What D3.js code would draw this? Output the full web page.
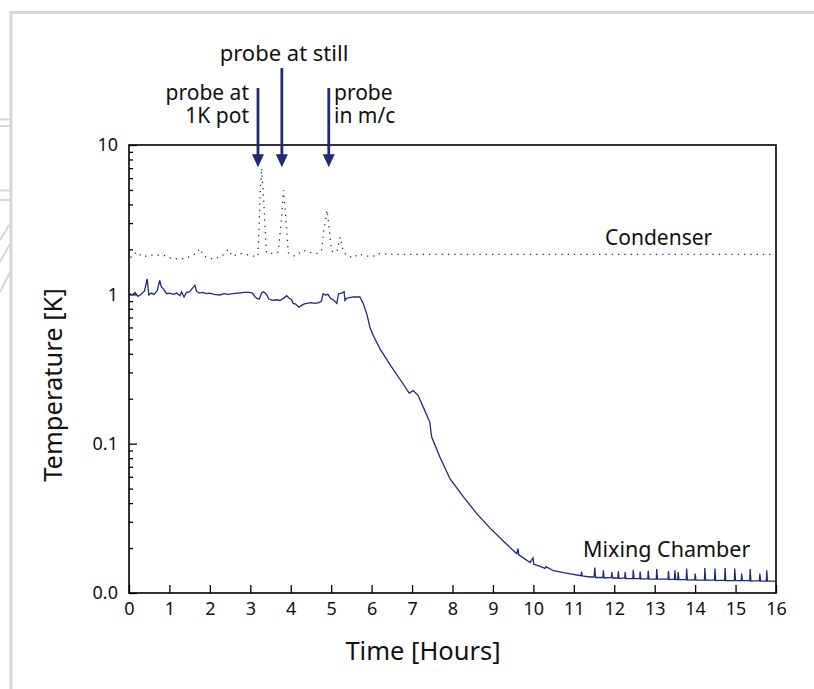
<!DOCTYPE html>
<html>
<head>
<meta charset="utf-8">
<script src="https://cdn.jsdelivr.net/npm/d3@7"></script>
<style>
  body { margin: 0; background: #fff; }
  text { font-family: "Noto Sans", sans-serif; fill: #111; }
</style>
</head>
<body>
<svg id="chart" width="814" height="689"></svg>
<script>
// time in hours, temperature in K
const mixingTime = [0.00, 0.08, 0.15, 0.22, 0.30, 0.38, 0.45, 0.49, 0.55, 0.62, 0.70, 0.76, 0.80, 0.86, 0.93,
  1.00, 1.10, 1.18, 1.26, 1.30, 1.36, 1.42, 1.50, 1.58, 1.63, 1.67, 1.74, 1.82, 1.92, 2.00, 2.10, 2.25, 2.35,
  2.45, 2.57, 2.70, 2.85, 2.99, 3.05, 3.12, 3.16, 3.22, 3.28, 3.33, 3.40, 3.46, 3.55, 3.65, 3.73, 3.82, 3.90,
  3.95, 4.02, 4.06, 4.12, 4.20, 4.26, 4.32, 4.40, 4.50, 4.60, 4.70, 4.76, 4.80, 4.86, 4.92, 4.98, 5.05, 5.14,
  5.18, 5.26, 5.32, 5.34, 5.38, 5.45, 5.55, 5.63, 5.71, 5.79, 5.88, 5.96, 6.04, 6.21, 6.45, 6.70, 6.93, 7.03,
  7.15, 7.28, 7.44, 7.47, 7.49, 7.69, 7.94, 8.27, 8.60, 8.93, 9.26, 9.59, 9.62, 9.64, 9.92, 9.99, 10.01, 10.10,
  10.29, 10.31, 10.50, 10.74, 10.95, 11.15, 11.18, 11.19, 11.21, 11.40,
  11.50, 11.52, 11.54, 11.72, 11.73, 11.75, 11.93, 11.94, 11.96, 12.09, 12.10, 12.12, 12.26, 12.27, 12.29,
  12.46, 12.47, 12.49, 12.63, 12.64, 12.66, 12.83, 12.84, 12.86, 13.04, 13.05, 13.07, 13.33, 13.34, 13.36,
  13.49, 13.50, 13.52, 13.57, 13.58, 13.60, 13.78, 13.79, 13.81, 13.99, 14.00, 14.02, 14.23, 14.24, 14.26,
  14.48, 14.49, 14.51, 14.73, 14.74, 14.76, 14.97, 14.98, 15.00, 15.14, 15.15, 15.17, 15.35, 15.36, 15.38,
  15.59, 15.60, 15.62, 15.76, 15.77, 15.79, 16.00]
const mixingTemp = [1.02, 0.99, 1.03, 0.97, 1.00, 1.05, 1.27, 0.99, 1.02, 1.00, 1.06, 1.24, 1.12, 1.08, 1.01,
  1.02, 1.00, 1.02, 0.98, 1.04, 0.96, 1.03, 1.04, 1.11, 1.15, 1.05, 1.02, 1.03, 1.01, 1.02, 1.00, 0.99, 1.01,
  1.00, 1.01, 1.02, 1.03, 1.03, 1.02, 0.96, 0.94, 0.93, 1.02, 1.04, 1.00, 0.93, 0.91, 0.92, 0.91, 0.94, 0.98,
  0.95, 0.92, 0.87, 0.86, 0.82, 0.84, 0.86, 0.87, 0.88, 0.87, 0.88, 0.90, 1.01, 0.99, 1.00, 0.94, 0.92, 0.87,
  1.01, 1.02, 1.04, 0.91, 0.94, 0.95, 0.96, 0.96, 0.96, 0.87, 0.74, 0.60, 0.53, 0.43, 0.34, 0.27, 0.218, 0.227,
  0.21, 0.175, 0.139, 0.118, 0.110, 0.081, 0.058, 0.044, 0.034, 0.0272, 0.0222, 0.0183, 0.0198, 0.0180, 0.0160, 0.0172, 0.0156, 0.0153,
  0.0146, 0.0150, 0.0141, 0.0137, 0.0134, 0.0131, 0.0131, 0.0139, 0.0130, 0.0128,
  0.0128, 0.0148, 0.0127, 0.0127, 0.0142, 0.0126, 0.0127, 0.0138, 0.0126, 0.0126, 0.0140, 0.0125, 0.0126, 0.0138, 0.0125,
  0.0125, 0.0143, 0.0125, 0.0125, 0.0139, 0.0124, 0.0125, 0.0141, 0.0124, 0.0124, 0.0145, 0.0124, 0.0124, 0.0140, 0.0123,
  0.0124, 0.0142, 0.0123, 0.0123, 0.0138, 0.0123, 0.0123, 0.0146, 0.0122, 0.0123, 0.0135, 0.0122, 0.0122, 0.0147, 0.0122,
  0.0122, 0.0146, 0.0121, 0.0122, 0.0147, 0.0121, 0.0121, 0.0146, 0.0121, 0.0121, 0.0135, 0.0121, 0.0121, 0.0145, 0.0120,
  0.0121, 0.0135, 0.0120, 0.0120, 0.0142, 0.0120, 0.0120]

const condenserTime = [0.00, 0.05, 0.19, 0.34, 0.55, 0.85, 1.10, 1.40, 1.67, 1.75, 1.85, 2.08, 2.30, 2.45, 2.55,
  2.74, 3.00, 3.15, 3.19, 3.24, 3.28, 3.32, 3.40, 3.55, 3.69, 3.76, 3.82, 3.88, 3.94, 4.10, 4.31, 4.50, 4.65,
  4.76, 4.82, 4.90, 4.96, 5.01, 5.14, 5.22, 5.30, 5.38, 5.55, 5.67, 5.88, 6.05, 6.14, 6.50, 16.00]
const condenserTemp = [1.97, 1.77, 1.92, 1.78, 1.83, 1.83, 1.72, 1.74, 1.88, 2.03, 1.80, 1.72, 1.80, 2.00, 1.80,
  1.88, 1.83, 1.78, 1.80, 4.5, 7.0, 4.8, 1.90, 1.88, 1.92, 3.0, 5.0, 3.2, 1.90, 1.80, 1.97, 1.90, 1.88,
  1.95, 2.7, 3.66, 2.6, 1.95, 1.92, 2.42, 1.93, 1.83, 1.75, 1.86, 1.80, 1.80, 1.88, 1.85, 1.85]

const xTicks = [0, 1, 2, 3, 4, 5, 6, 7, 8, 9, 10, 11, 12, 13, 14, 15, 16]
const yTicks = [0.01, 0.1, 1, 10]
const yTickLabels = ["0.0", "0.1", "1", "10"]

const arrowTimes = [3.19, 3.78, 4.94]
const arrowTip = 7.1

const navy = "#1f2a78"
const svg = d3.select("#chart")
const pLeft = 129, pRight = 776, pTop = 145, pBottom = 593

// page frame and margin decorations
const frame = svg.append("g").attr("stroke", "#d7d7d7").attr("fill", "none")
frame.append("path").attr("stroke-width", 3).attr("d", "M11,689 V12.5 H814")
;[119.5, 126, 190.5, 200].forEach(yy => {
  frame.append("line").attr("stroke-width", 2).attr("x1", 0).attr("x2", 10).attr("y1", yy).attr("y2", yy)
})
;[[240, 224], [262, 244], [292, 272]].forEach(p => {
  frame.append("line").attr("stroke-width", 2).attr("x1", 0).attr("x2", 10).attr("y1", p[0]).attr("y2", p[1])
})

const x = d3.scaleLinear().domain([0, 16]).range([pLeft, pRight])
const y = d3.scaleLog().domain([0.01, 10]).range([pBottom, pTop])

// axes
const xAxis = svg.append("g").attr("transform", `translate(0,${pBottom})`)
  .call(d3.axisBottom(x).tickValues(xTicks).tickSizeInner(-8).tickSizeOuter(0).tickPadding(9).tickFormat(d3.format("d")))
xAxis.select(".domain").remove()
xAxis.selectAll("line").attr("stroke", "#000").attr("stroke-width", 1.3)
xAxis.selectAll("text").attr("font-size", 18).attr("font-family", "Noto Sans").attr("fill", "#111")

const yMinor = svg.append("g").attr("transform", `translate(${pLeft},0)`)
  .call(d3.axisLeft(y).tickValues(y.ticks().filter(v => yTicks.indexOf(v) < 0)).tickSizeInner(-4).tickSizeOuter(0).tickFormat(""))
yMinor.select(".domain").remove()
yMinor.selectAll("line").attr("stroke", "#000").attr("stroke-width", 1.3)

const yAxis = svg.append("g").attr("transform", `translate(${pLeft},0)`)
  .call(d3.axisLeft(y).tickValues(yTicks).tickSizeInner(-8).tickSizeOuter(0).tickPadding(11)
    .tickFormat((d, i) => yTickLabels[i]))
yAxis.select(".domain").remove()
yAxis.selectAll("line").attr("stroke", "#000").attr("stroke-width", 1.3)
yAxis.selectAll("text").attr("font-size", 18).attr("font-family", "Noto Sans").attr("fill", "#111")

svg.append("rect").attr("x", pLeft).attr("y", pTop).attr("width", pRight - pLeft).attr("height", pBottom - pTop)
  .attr("fill", "none").attr("stroke", "#000").attr("stroke-width", 1.6)

// series
const line = d3.line().x(d => x(d[0])).y(d => y(d[1]))
svg.append("path")
  .datum(d3.zip(condenserTime, condenserTemp))
  .attr("d", line).attr("fill", "none").attr("stroke", navy)
  .attr("stroke-width", 1.3).attr("stroke-dasharray", "1.3,5")
svg.append("path")
  .datum(d3.zip(mixingTime, mixingTemp))
  .attr("d", line).attr("fill", "none").attr("stroke", navy).attr("stroke-width", 1.3)

// arrows
const arrowTops = [88, 68, 88]
arrowTimes.forEach((t, i) => {
  const ax = x(t), tip = y(arrowTip)
  svg.append("line").attr("x1", ax).attr("x2", ax).attr("y1", arrowTops[i]).attr("y2", tip - 10)
    .attr("stroke", navy).attr("stroke-width", 2.8)
  svg.append("path").attr("d", `M${ax - 6},${tip - 13} L${ax + 6},${tip - 13} L${ax},${tip} Z`).attr("fill", navy)
})

// annotations
const label = (lines, lx, ly, anchor, size) => {
  const t = svg.append("text").attr("x", lx).attr("y", ly).attr("text-anchor", anchor).attr("font-size", size)
  lines.forEach((s, i) => t.append("tspan").attr("x", lx).attr("dy", i ? 23 : 0).text(s))
  return t
}
label(["probe at still"], 284, 61, "middle", 22)
label(["probe at", "1K pot"], 249, 100, "end", 21)
label(["probe", "in m/c"], 334, 100, "start", 21)
label(["Condenser"], 605, 245, "start", 21)
label(["Mixing Chamber"], 583, 557, "start", 21.5)

label(["Time [Hours]"], 423, 660, "middle", 25.5)
svg.append("text").attr("transform", "translate(62,385) rotate(-90)")
  .attr("text-anchor", "middle").attr("font-size", 25.5).text("Temperature [K]")
</script>
</body>
</html>
